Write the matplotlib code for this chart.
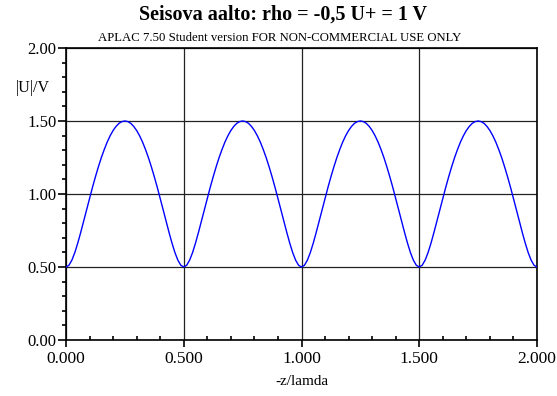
import numpy as np
import matplotlib
matplotlib.use("Agg")
import matplotlib.pyplot as plt
from matplotlib.ticker import MultipleLocator, FormatStrFormatter

# position along the line, step 1/80 lambda
z_step = 0.0125
# |U|, one row per half period
u_abs = [
    0.500, 0.512, 0.547, 0.599, 0.664, 0.737, 0.814, 0.892, 0.970, 1.046,
    1.118, 1.186, 1.249, 1.305, 1.356, 1.399, 1.435, 1.463, 1.484, 1.496,
    1.500, 1.496, 1.484, 1.463, 1.435, 1.399, 1.356, 1.305, 1.249, 1.186,
    1.118, 1.046, 0.970, 0.892, 0.814, 0.737, 0.664, 0.599, 0.547, 0.512,
    0.500, 0.512, 0.547, 0.599, 0.664, 0.737, 0.814, 0.892, 0.970, 1.046,
    1.118, 1.186, 1.249, 1.305, 1.356, 1.399, 1.435, 1.463, 1.484, 1.496,
    1.500, 1.496, 1.484, 1.463, 1.435, 1.399, 1.356, 1.305, 1.249, 1.186,
    1.118, 1.046, 0.970, 0.892, 0.814, 0.737, 0.664, 0.599, 0.547, 0.512,
    0.500, 0.512, 0.547, 0.599, 0.664, 0.737, 0.814, 0.892, 0.970, 1.046,
    1.118, 1.186, 1.249, 1.305, 1.356, 1.399, 1.435, 1.463, 1.484, 1.496,
    1.500, 1.496, 1.484, 1.463, 1.435, 1.399, 1.356, 1.305, 1.249, 1.186,
    1.118, 1.046, 0.970, 0.892, 0.814, 0.737, 0.664, 0.599, 0.547, 0.512,
    0.500, 0.512, 0.547, 0.599, 0.664, 0.737, 0.814, 0.892, 0.970, 1.046,
    1.118, 1.186, 1.249, 1.305, 1.356, 1.399, 1.435, 1.463, 1.484, 1.496,
    1.500, 1.496, 1.484, 1.463, 1.435, 1.399, 1.356, 1.305, 1.249, 1.186,
    1.118, 1.046, 0.970, 0.892, 0.814, 0.737, 0.664, 0.599, 0.547, 0.512,
    0.500,
]
z_lambda = np.arange(len(u_abs)) * z_step

plt.rcParams['font.family'] = ['Liberation Serif', 'DejaVu Serif']

fig = plt.figure(figsize=(5.57, 3.96), dpi=100)
ax = fig.add_axes([66 / 557, 56 / 396, 471 / 557, 292 / 396])

ax.plot(z_lambda, u_abs, color='#0000ff', lw=1.0, zorder=3)

ax.set_xlim(0, 2)
ax.set_ylim(0, 2)
ax.xaxis.set_major_locator(MultipleLocator(0.5))
ax.xaxis.set_minor_locator(MultipleLocator(0.1))
ax.yaxis.set_major_locator(MultipleLocator(0.5))
ax.yaxis.set_minor_locator(MultipleLocator(0.1))
ax.xaxis.set_major_formatter(FormatStrFormatter('%.3f'))
ax.yaxis.set_major_formatter(FormatStrFormatter('%.2f'))

ax.tick_params(axis='x', which='major', direction='out', length=5, width=1.2,
               labelsize=12.5, pad=3)
ax.tick_params(axis='x', which='minor', direction='in', length=3, width=1.2)
ax.tick_params(axis='y', which='major', direction='out', length=6, width=1.2,
               labelsize=12, pad=1)
ax.tick_params(axis='y', which='minor', direction='out', length=3, width=1.2)

ax.grid(which='major', color='#222222', lw=0.9)
for s in ax.spines.values():
    s.set_linewidth(1.2)

ax.set_xlabel('-z/lamda', fontsize=11, labelpad=6)
ax.text(-0.034, 0.863, '|U|/V', transform=ax.transAxes, fontsize=11.5,
        ha='right', va='center')

fig.text(0.508, 0.963, 'Seisova aalto: rho = -0,5 U+ = 1 V', fontsize=14.5,
         fontweight='bold', ha='center', va='center')
fig.text(0.503, 0.905, 'APLAC 7.50 Student version FOR NON-COMMERCIAL USE ONLY',
         fontsize=9.2, ha='center', va='center')

fig.savefig('out.png', dpi=100)
